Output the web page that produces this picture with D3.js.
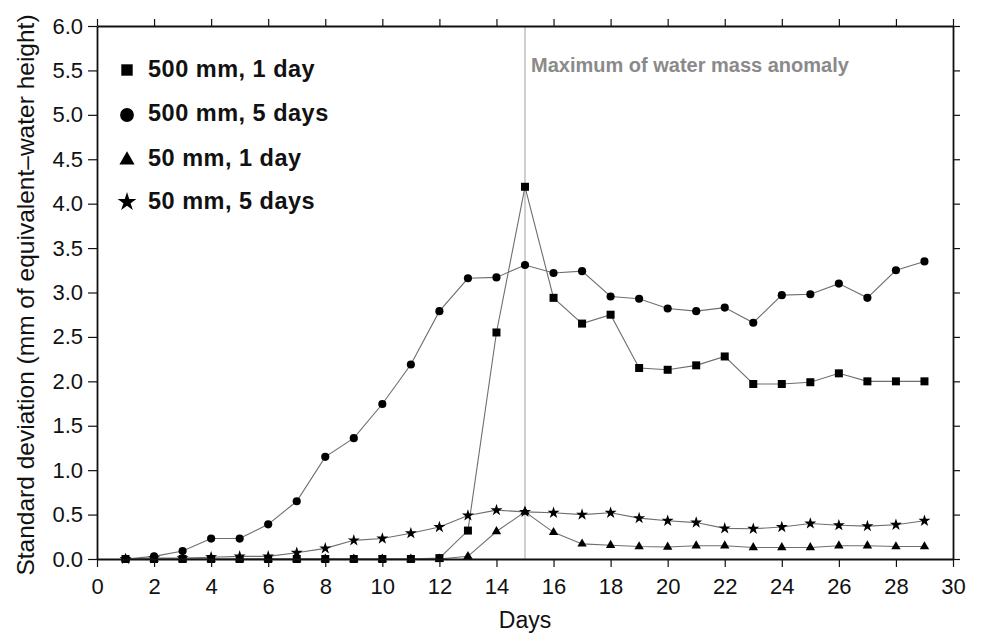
<!DOCTYPE html>
<html>
<head>
<meta charset="utf-8">
<script src="https://cdn.jsdelivr.net/npm/d3@7"></script>
<style>
  html, body { margin: 0; padding: 0; background: #fff; }
  svg { display: block; font-family: "Liberation Sans", Arial, Helvetica, sans-serif; }
</style>
</head>
<body>
<svg id="chart" width="981" height="636"></svg>
<script>
// Days 1..29
const days = d3.range(1, 30);

// Standard deviation series (mm of equivalent-water height)
const s500mm1day = [0, 0, 0, 0, 0, 0, 0, 0, 0, 0, 0, 0.01, 0.32, 2.55, 4.19, 2.94, 2.65, 2.75, 2.15, 2.13, 2.18, 2.28, 1.97, 1.97, 1.99, 2.09, 2.0, 2.0, 2.0];
const s500mm5days = [0, 0.03, 0.09, 0.23, 0.23, 0.39, 0.65, 1.15, 1.36, 1.745, 2.19, 2.79, 3.16, 3.17, 3.31, 3.22, 3.24, 2.955, 2.93, 2.82, 2.79, 2.83, 2.66, 2.97, 2.98, 3.10, 2.94, 3.25, 3.35];
const s50mm1day = [0, 0, 0, 0, 0, 0, 0, 0, 0, 0, 0, 0, 0.03, 0.31, 0.53, 0.30, 0.17, 0.155, 0.14, 0.135, 0.15, 0.15, 0.13, 0.13, 0.13, 0.15, 0.15, 0.14, 0.14];
const s50mm5days = [0, 0.01, 0.01, 0.02, 0.03, 0.03, 0.07, 0.12, 0.21, 0.23, 0.29, 0.36, 0.49, 0.55, 0.53, 0.52, 0.50, 0.52, 0.46, 0.43, 0.41, 0.345, 0.34, 0.36, 0.40, 0.38, 0.37, 0.385, 0.43];

const seriesNames = ["500 mm, 1 day", "500 mm, 5 days", "50 mm, 1 day", "50 mm, 5 days"];
const seriesValues = [s500mm1day, s500mm5days, s50mm1day, s50mm5days];
const seriesSymbols = [d3.symbolSquare, d3.symbolCircle, d3.symbolTriangle, d3.symbolStar];

const xTicks = d3.range(0, 31, 2);
const yTicks = d3.range(0, 6.01, 0.5);
const peakDay = 15;
const peakLabel = "Maximum of water mass anomaly";

const svg = d3.select("#chart");
const margin = { left: 97, right: 28, top: 26, bottom: 77 };
const W = 981, H = 636;

const x = d3.scaleLinear().domain([0, 30]).range([margin.left, W - margin.right]);
const y = d3.scaleLinear().domain([0, 6]).range([H - margin.bottom, margin.top]);

// Peak marker line
svg.append("line")
  .attr("x1", x(peakDay)).attr("x2", x(peakDay))
  .attr("y1", y(6)).attr("y2", y(0))
  .attr("stroke", "#b0b0b0").attr("stroke-width", 1.2);

svg.append("text")
  .attr("x", x(peakDay) + 6).attr("y", 72)
  .attr("font-size", 20).attr("font-weight", "bold")
  .attr("fill", "#8a8a8a")
  .text(peakLabel);

// Series lines and markers
const line = d3.line().x((d, i) => x(days[i])).y(d => y(d));
const plotSizes = [64, 52, 38, 45];
const legendSizes = [130, 150, 100, 110];

seriesValues.forEach(vals => {
  svg.append("path")
    .datum(vals)
    .attr("d", line)
    .attr("fill", "none")
    .attr("stroke", "#6e6e6e")
    .attr("stroke-width", 1.1);
});
seriesValues.forEach((vals, k) => {
  const sym = d3.symbol().type(seriesSymbols[k]).size(plotSizes[k]);
  svg.append("g").selectAll("path")
    .data(vals)
    .join("path")
    .attr("transform", (d, i) => `translate(${x(days[i])},${y(d)})`)
    .attr("d", sym)
    .attr("fill", "#000");
});

// Axes on all four sides
const tickFont = g => g.selectAll("text").attr("font-size", 22).attr("fill", "#111")
  .attr("font-family", "'Liberation Sans', Arial, sans-serif");
const styleAxis = g => {
  g.select(".domain").attr("stroke", "#111").attr("stroke-width", 1.8);
  g.selectAll(".tick line").attr("stroke", "#111").attr("stroke-width", 1.2);
};

svg.append("g")
  .attr("transform", `translate(0,${y(0)})`)
  .call(d3.axisBottom(x).tickValues(xTicks).tickFormat(d3.format("d")).tickSize(8).tickPadding(11).tickSizeOuter(0))
  .call(styleAxis).call(tickFont);

svg.append("g")
  .attr("transform", `translate(0,${y(6)})`)
  .call(d3.axisTop(x).tickValues(xTicks).tickFormat("").tickSize(7).tickSizeOuter(0))
  .call(styleAxis);

svg.append("g")
  .attr("transform", `translate(${x(0)},0)`)
  .call(d3.axisLeft(y).tickValues(yTicks).tickFormat(d3.format(".1f")).tickSize(9).tickPadding(5).tickSizeOuter(0))
  .call(styleAxis).call(tickFont);

svg.append("g")
  .attr("transform", `translate(${x(30)},0)`)
  .call(d3.axisRight(y).tickValues(yTicks).tickFormat("").tickSize(7).tickSizeOuter(0))
  .call(styleAxis);

// Axis titles
svg.append("text")
  .attr("x", 525).attr("y", 628)
  .attr("text-anchor", "middle").attr("font-size", 23).attr("fill", "#111")
  .text("Days");

svg.append("text")
  .attr("transform", `translate(34,295) rotate(-90)`)
  .attr("text-anchor", "middle").attr("font-size", 24.5).attr("fill", "#111")
  .text("Standard deviation (mm of equivalent\u2013water height)");

// Legend
const legendMarkY = [70, 115, 160, 202];
const legendTextY = [77, 121, 166, 209];
seriesNames.forEach((name, k) => {
  const sym = d3.symbol().type(seriesSymbols[k]).size(legendSizes[k]);
  svg.append("path")
    .attr("transform", `translate(127,${legendMarkY[k]})`)
    .attr("d", sym).attr("fill", "#000");
  svg.append("text")
    .attr("x", 148).attr("y", legendTextY[k])
    .attr("font-size", 23.5).attr("font-weight", "bold")
    .attr("letter-spacing", 0.5).attr("fill", "#111")
    .text(name);
});
</script>
</body>
</html>
